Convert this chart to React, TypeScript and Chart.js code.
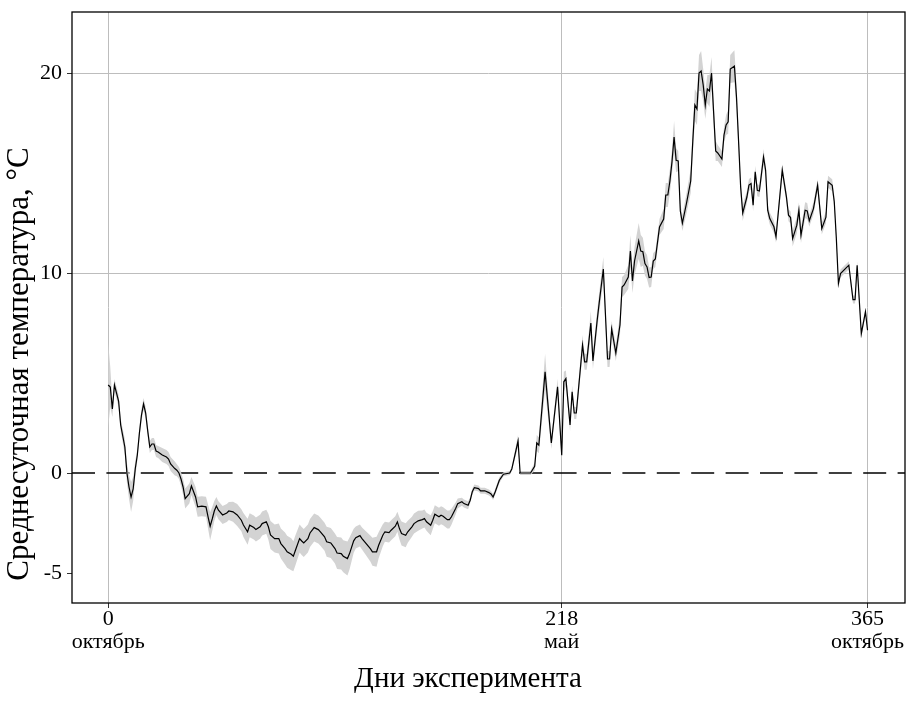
import React, { useEffect, useRef } from 'react';
import { Chart, registerables } from 'chart.js';

Chart.register(...registerables);

// Day of experiment
const days = [
  0, 1, 2, 3, 5, 6, 8, 9, 10, 11, 12, 13, 14, 15, 16, 17, 18, 19, 20, 21, 22, 23, 24, 26, 28, 29, 30, 32, 33, 34,
  35, 36, 37, 39, 40, 42, 43, 45, 47, 48, 49, 50, 51, 52, 53, 55, 57, 58, 60, 62, 64, 65, 67, 68, 70, 71, 73, 74,
  76, 77, 78, 80, 82, 83, 85, 86, 88, 89, 90, 92, 93, 94, 96, 97, 99, 101, 102, 104, 105, 107, 109, 110, 112, 113,
  115, 116, 118, 119, 121, 122, 124, 126, 127, 129, 130, 132, 133, 135, 136, 138, 139, 140, 141, 143, 144, 146, 147,
  149, 151, 152, 153, 155, 156, 157, 159, 160, 161, 163, 164, 165, 167, 168, 170, 171, 173, 174, 175, 176, 178, 179,
  181, 183, 184, 185, 186, 188, 190, 193, 194, 197, 198, 200, 203, 205, 206, 207, 210, 213, 216, 218, 219, 220, 222,
  223, 224, 225, 228, 229, 230, 232, 233, 235, 236, 238, 240, 241, 242, 244, 246, 247, 248, 250, 251, 252, 253, 255,
  256, 257, 258, 259, 260, 261, 262, 263, 265, 267, 268, 269, 270, 271, 272, 273, 274, 275, 276, 278, 280, 281, 282,
  283, 284, 285, 286, 287, 288, 289, 290, 292, 293, 295, 296, 297, 298, 299, 301, 302, 303, 304, 305, 307, 308, 309,
  310, 311, 312, 313, 315, 316, 317, 318, 320, 321, 324, 326, 327, 328, 329, 331, 332, 333, 335, 336, 337, 339, 340,
  341, 343, 345, 346, 348, 349, 350, 351, 352, 356, 358, 359, 360, 362, 364, 365,
];

// Mean daily temperature, °C
const meanTemp = [
  4.4, 4.3, 3.2, 4.4, 3.6, 2.4, 1.3, 0.0, -0.7, -1.2, -0.8, 0.2, 0.9, 2.0, 2.9, 3.45, 3.0, 2.1, 1.3, 1.45, 1.45, 1.1,
  1.05, 0.9, 0.8, 0.7, 0.45, 0.22, 0.14, 0.0,
  -0.3, -0.7, -1.28, -1.03, -0.65, -1.2, -1.69, -1.66, -1.69, -2.19, -2.66, -2.3, -1.9, -1.65, -1.86, -2.1, -2.0, -1.9,
  -1.94, -2.1, -2.36, -2.6, -2.94, -2.61, -2.73, -2.83, -2.69, -2.53,
  -2.44, -2.69, -3.1, -3.28, -3.28, -3.53, -3.78, -3.94, -4.06, -4.16, -3.86, -3.28, -3.4, -3.5, -3.28, -3.0, -2.73,
  -2.83, -2.94, -3.19, -3.44, -3.5, -3.78, -4.0, -4.03, -4.16,
  -4.28, -4.03, -3.39, -3.23, -3.13, -3.28, -3.53, -3.78, -3.94, -3.94, -3.61, -3.11, -2.94, -2.98, -2.86, -2.66, -2.44,
  -2.78, -3.03, -3.11, -2.94, -2.69, -2.53,
  -2.39, -2.33, -2.28, -2.44, -2.61, -2.36, -2.06, -2.19, -2.11, -2.16, -2.33, -2.33, -2.19, -1.78, -1.53, -1.44, -1.53,
  -1.61, -1.36, -0.94, -0.73, -0.78, -0.89,
  -0.89, -0.98, -1.05, -1.2, -0.95, -0.36, -0.06, 0.0, 0.2, 1.6, 0.0, 0.0, 0.0, 0.33, 1.5, 1.39, 5.06, 1.5, 4.31, 0.89,
  4.56, 4.72, 2.4,
  4.06, 3.0, 3.0, 6.4, 5.56, 5.56, 7.5, 5.6, 7.6, 8.5, 10.2, 5.7, 5.7, 7.2, 6.0, 7.4, 9.3, 9.4, 9.8, 11.1, 9.6, 10.6,
  11.6,
  11.1, 11.06, 10.47, 10.3, 9.77, 9.8, 10.6, 10.7, 12.3, 12.7, 13.9, 13.9, 14.6, 15.56, 16.8, 15.64, 15.6, 13.1, 12.5,
  13.5, 14.6, 16.6, 18.4,
  18.2, 20.0, 20.1, 19.4, 18.4, 19.2, 19.1, 20.0, 16.1, 16.0, 15.7, 16.9, 17.4, 17.56, 20.2, 20.34, 18.8, 16.6, 14.3,
  13.0, 13.8, 14.4, 14.47,
  13.39, 15.06, 14.14, 14.1, 15.8, 15.14, 13.14, 12.72, 12.31, 11.81, 15.14, 13.81, 12.89, 12.77, 11.72, 12.39, 13.14,
  11.89, 13.14, 13.1, 12.61, 13.22, 13.81,
  14.39, 12.22, 12.79, 14.56, 14.39, 13.56, 11.72, 9.47, 9.97, 10.39, 8.67, 8.67, 10.39, 6.97, 8.06, 7.14,
];

// Half-width of the grey spread band around the mean, °C
const bandHalfWidth = [
  2.1, 1.0, 0.4, 0.3, 0.3, 0.3, 0.4, 0.5, 0.6, 0.75, 0.6, 0.4, 0.3, 0.3, 0.3, 0.3, 0.3, 0.3, 0.3, 0.3, 0.3, 0.3, 0.3,
  0.35, 0.35, 0.35, 0.35, 0.35, 0.3, 0.3,
  0.35, 0.4, 0.5, 0.5, 0.45, 0.5, 0.5, 0.5, 0.5, 0.6, 0.7, 0.6, 0.5, 0.45, 0.45, 0.45, 0.45, 0.45,
  0.5, 0.55, 0.55, 0.6, 0.65, 0.6, 0.6, 0.6, 0.6, 0.6,
  0.6, 0.65, 0.7, 0.7, 0.75, 0.75, 0.8, 0.8, 0.8, 0.75, 0.75, 0.7, 0.7, 0.7, 0.7, 0.7, 0.7,
  0.7, 0.7, 0.7, 0.75, 0.75, 0.75, 0.8, 0.8, 0.8,
  0.85, 0.8, 0.6, 0.55, 0.55, 0.55, 0.6, 0.65, 0.7, 0.75, 0.65, 0.55, 0.5, 0.5, 0.5, 0.5, 0.5,
  0.55, 0.6, 0.6, 0.55, 0.5, 0.5,
  0.5, 0.45, 0.45, 0.45, 0.5, 0.45, 0.45, 0.45, 0.45, 0.45, 0.45, 0.45, 0.4, 0.3, 0.25, 0.2, 0.2,
  0.2, 0.15, 0.15, 0.15, 0.15, 0.15,
  0.15, 0.15, 0.15, 0.15, 0.15, 0.15, 0.1, 0.1, 0.1, 0.3, 0.1, 0.1, 0.1, 0.2, 0.4, 0.4, 0.9, 0.3, 0.4, 0.3,
  0.5, 0.4, 0.3,
  0.3, 0.3, 0.3, 0.5, 0.4, 0.4, 0.6, 0.4, 0.5, 0.5, 0.6, 0.4, 0.4, 0.4, 0.4, 0.5, 0.5, 0.5, 0.6, 0.8, 0.6, 0.7,
  0.9,
  0.8, 0.7, 0.6, 0.6, 0.5, 0.5, 0.4, 0.4, 0.4, 0.5, 0.6, 0.6, 0.6, 0.6, 0.8, 0.6, 0.5, 0.4, 0.4,
  0.5, 0.6, 0.7, 0.8,
  0.8, 0.9, 1.0, 0.8, 0.7, 0.7, 0.8, 0.8, 0.5, 0.4, 0.4, 0.4, 0.5, 0.6, 0.7, 0.8, 0.6, 0.5, 0.4,
  0.4, 0.3, 0.3, 0.3,
  0.3, 0.3, 0.3, 0.3, 0.4, 0.3, 0.3, 0.3, 0.3, 0.3, 0.3, 0.3, 0.3, 0.3, 0.4, 0.4, 0.4,
  0.4, 0.4, 0.4, 0.3, 0.3, 0.3,
  0.3, 0.3, 0.3, 0.3, 0.3, 0.3, 0.2, 0.2, 0.2, 0.2, 0.2, 0.2, 0.2, 0.2, 0.2, 0.2,
];

const xTickValues = [0, 218, 365];
const xTickMonths = ['октябрь', 'май', 'октябрь'];
const yTickValues = [-5, 0, 10, 20];
const yGridValues = [10, 20];
const referenceLevel = 0;

const xTitle = 'Дни эксперимента';
const yTitle = 'Среднесуточная температура, °C';

const FONT = "'Liberation Serif', 'Times New Roman', serif";

const framePlugin = {
  id: 'frameZeroTitles',
  beforeDatasetsDraw(chart: any) {
    const { ctx, chartArea, scales } = chart;
    const y0 = scales.y.getPixelForValue(referenceLevel);
    ctx.save();
    ctx.beginPath();
    ctx.rect(chartArea.left, chartArea.top, chartArea.right - chartArea.left, chartArea.bottom - chartArea.top);
    ctx.clip();
    ctx.strokeStyle = '#000';
    ctx.lineWidth = 1.3;
    ctx.setLineDash([23, 11.4]);
    ctx.beginPath();
    ctx.moveTo(chartArea.left, y0);
    ctx.lineTo(chartArea.right, y0);
    ctx.stroke();
    ctx.restore();
  },
  afterDraw(chart: any) {
    const { ctx, chartArea } = chart;
    ctx.save();
    ctx.strokeStyle = '#000';
    ctx.lineWidth = 1.3;
    ctx.strokeRect(chartArea.left, chartArea.top, chartArea.right - chartArea.left, chartArea.bottom - chartArea.top);

    // axis titles
    ctx.fillStyle = '#000';
    ctx.textAlign = 'center';
    ctx.textBaseline = 'middle';
    ctx.font = `29px ${FONT}`;
    ctx.fillText(xTitle, 468, 679);

    ctx.translate(20, 364);
    ctx.rotate(-Math.PI / 2);
    ctx.font = `31px ${FONT}`;
    ctx.fillText(yTitle, 0, 0);
    ctx.restore();
  },
};

export default function App() {
  const canvasRef = useRef<HTMLCanvasElement | null>(null);

  useEffect(() => {
    const canvas = canvasRef.current;
    if (!canvas) return;

    const meanPts = days.map((d, i) => ({ x: d, y: meanTemp[i] }));
    const loPts = days.map((d, i) => ({ x: d, y: meanTemp[i] - bandHalfWidth[i] }));
    const hiPts = days.map((d, i) => ({ x: d, y: meanTemp[i] + bandHalfWidth[i] }));

    const chart = new Chart(canvas, {
      type: 'line',
      data: {
        datasets: [
          {
            label: 'mean',
            data: meanPts,
            borderWidth: 1.2,
            borderColor: '#000',
            pointRadius: 0,
            fill: false,
            tension: 0,
          },
          {
            label: 'low',
            data: loPts,
            borderWidth: 0,
            pointRadius: 0,
            fill: false,
            borderColor: 'rgba(0,0,0,0)',
          },
          {
            label: 'high',
            data: hiPts,
            borderWidth: 0,
            pointRadius: 0,
            fill: '-1',
            backgroundColor: '#d3d3d3',
            borderColor: 'rgba(0,0,0,0)',
          },
        ],
      },
      options: {
        responsive: false,
        animation: false,
        layout: { padding: { top: 12, right: 3, left: 0, bottom: 0 } },
        plugins: {
          legend: { display: false },
          tooltip: { enabled: false },
        },
        scales: {
          x: {
            type: 'linear',
            min: -17.4,
            max: 383,
            afterBuildTicks: (s: any) => {
              s.ticks = xTickValues.map((v) => ({ value: v }));
            },
            afterFit: (s: any) => {
              s.height = 109;
              s.paddingLeft = 0;
              s.paddingRight = 0;
            },
            ticks: {
              autoSkip: false,
              maxRotation: 0,
              padding: 0,
              color: '#000',
              font: { family: FONT, size: 22, lineHeight: 1.05 },
              callback: (value: any) => {
                const i = xTickValues.indexOf(Number(value));
                return [String(value), xTickMonths[i] ?? ''];
              },
            },
            grid: {
              color: '#bdbdbd',
              lineWidth: 1,
              drawTicks: true,
              tickLength: 5,
              tickColor: '#333',
            },
            border: { display: false },
          },
          y: {
            type: 'linear',
            min: -6.5,
            max: 23.05,
            afterBuildTicks: (s: any) => {
              s.ticks = yTickValues.map((v) => ({ value: v }));
            },
            afterFit: (s: any) => {
              s.width = 72;
              s.paddingTop = 0;
              s.paddingBottom = 0;
            },
            ticks: {
              padding: 5,
              color: '#000',
              font: { family: FONT, size: 22 },
              callback: (value: any) => String(value),
            },
            grid: {
              color: (ctx: any) => (yGridValues.includes(ctx.tick?.value) ? '#bdbdbd' : 'rgba(0,0,0,0)'),
              lineWidth: 1,
              drawTicks: true,
              tickLength: 5,
              tickColor: '#333',
            },
            border: { display: false },
          },
        },
      },
      plugins: [framePlugin],
    });

    return () => {
      chart.destroy();
    };
  }, []);

  return (
    <div style={{ position: 'fixed', left: 0, top: 0, width: 908, height: 712, background: '#fff' }}>
      <canvas ref={canvasRef} width={908} height={712} style={{ display: 'block', width: 908, height: 712 }} />
    </div>
  );
}
